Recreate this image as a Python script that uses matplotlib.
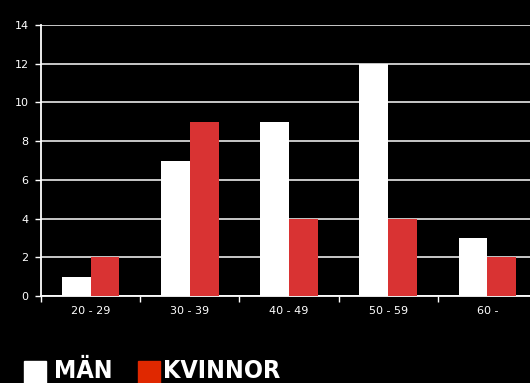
import numpy as np
import matplotlib
matplotlib.use("Agg")
from matplotlib import pyplot as plt
from matplotlib.patches import Rectangle

groups = ["20 - 29", "30 - 39", "40 - 49", "50 - 59", "60 -"]
man = [1, 7, 9, 12, 3]
kvinnor = [2, 9, 4, 4, 2]
yticks = [0, 2, 4, 6, 8, 10, 12, 14]

fig = plt.figure(figsize=(5.3, 3.83), dpi=100, facecolor="black")
ax = fig.add_axes([41/530, 1-296/383, 496/530, 271/383], facecolor="black")

x = np.arange(len(groups))
w = 0.29
ax.bar(x - w/2, man, w, color="white", zorder=3)
ax.bar(x + w/2, kvinnor, w, color="#d93333", zorder=3)

ax.set_ylim(0, 14)
ax.set_xlim(-0.5, len(groups) - 0.5)
ax.set_yticks(yticks)
ax.yaxis.grid(True, color="#d8d8d8", linewidth=1.3, zorder=1)
ax.set_xticks(x)
ax.set_xticklabels(groups)
ax.set_xticks(np.arange(len(groups) + 1) - 0.5, minor=True)
ax.tick_params(axis="x", which="major", length=0, colors="white", labelsize=8, pad=7)
ax.tick_params(axis="x", which="minor", length=4, color="white", width=1)
ax.tick_params(axis="y", length=4, color="white", width=1, labelcolor="white", labelsize=8, pad=5)
for s in ["top", "right"]:
    ax.spines[s].set_visible(False)
for s in ["left", "bottom"]:
    ax.spines[s].set_color("white")
    ax.spines[s].set_linewidth(1.3)

# legend drawn by hand, large bold condensed labels
lfont = dict(color="white", fontsize=18, fontweight="bold", fontstretch="condensed",
             family="DejaVu Sans", va="bottom")
fig.patches.append(Rectangle((24/530, 0), 22/530, 22/383, transform=fig.transFigure, color="white"))
fig.text(54/530, 0.0, "MÄN", **lfont)
fig.patches.append(Rectangle((138/530, 0), 22/530, 22/383, transform=fig.transFigure, color="#e02800"))
fig.text(163/530, 0.0, "KVINNOR", **lfont)

fig.savefig("out.png", dpi=100, facecolor="black")
